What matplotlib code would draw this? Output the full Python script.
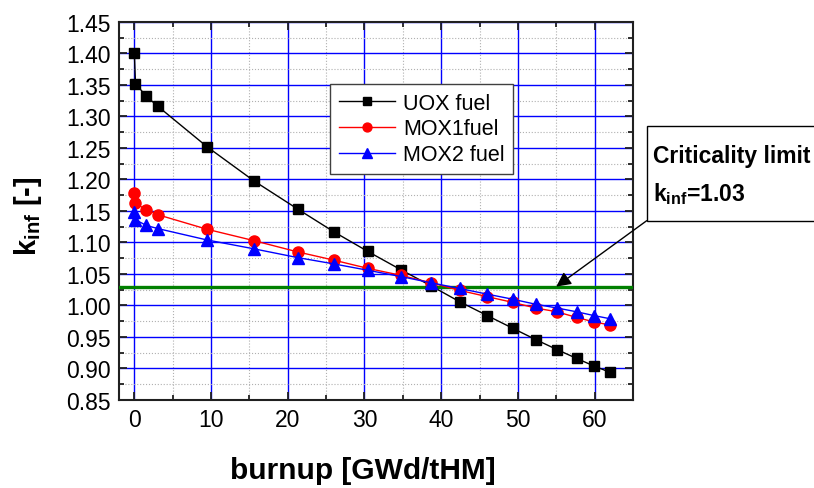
import matplotlib
matplotlib.use("Agg")
import matplotlib.pyplot as plt
from matplotlib.patches import Rectangle
from matplotlib.ticker import MultipleLocator, FormatStrFormatter

plt.rcParams['font.family'] = ['Liberation Sans', 'DejaVu Sans']
plt.rcParams['mathtext.fontset'] = 'custom'
plt.rcParams['mathtext.rm'] = 'Liberation Sans'
plt.rcParams['mathtext.bf'] = 'Liberation Sans:bold'

# burnup steps shared by all three fuels
burnup = [0, 0.15, 1.57, 3.08, 9.47, 15.56, 21.3, 26.0, 30.4, 34.7,
          38.7, 42.4, 46.0, 49.3, 52.3, 55.1, 57.65, 59.9, 62.0]

k_uox = [1.400, 1.352, 1.332, 1.316, 1.252, 1.198, 1.153, 1.117, 1.086, 1.057,
         1.031, 1.006, 0.984, 0.964, 0.946, 0.930, 0.916, 0.904, 0.894]
k_mox1 = [1.179, 1.162, 1.152, 1.144, 1.121, 1.103, 1.085, 1.072, 1.059, 1.048,
          1.036, 1.024, 1.014, 1.005, 0.996, 0.990, 0.981, 0.974, 0.969]
k_mox2 = [1.149, 1.136, 1.127, 1.122, 1.104, 1.090, 1.076, 1.066, 1.056, 1.046,
          1.036, 1.027, 1.018, 1.010, 1.002, 0.996, 0.990, 0.984, 0.979]

k_limit = 1.03

fig = plt.figure(figsize=(8.14, 4.89), dpi=100)
ax = fig.add_axes([0.1462, 0.18, 0.6314, 0.773])

ax.plot(burnup, k_uox, '-s', color='black', lw=1, ms=7.5, label='UOX fuel', zorder=4)
ax.plot(burnup, k_mox1, '-o', color='red', lw=1, ms=8, label='MOX1fuel', zorder=5)
ax.plot(burnup, k_mox2, '-^', color='blue', lw=1, ms=8.5, label='MOX2 fuel', zorder=6)

ax.axhline(k_limit, color='#008000', lw=2.4, zorder=3)

ax.set_xlim(-2, 65)
ax.set_ylim(0.85, 1.45)
ax.xaxis.set_major_locator(MultipleLocator(10))
ax.xaxis.set_minor_locator(MultipleLocator(5))
ax.yaxis.set_major_locator(MultipleLocator(0.05))
ax.yaxis.set_minor_locator(MultipleLocator(0.025))
ax.yaxis.set_major_formatter(FormatStrFormatter('%.2f'))

ax.grid(which='major', color='blue', lw=1, zorder=1)
ax.grid(which='minor', color='#b0b0b0', ls=':', lw=0.8, zorder=1)
ax.set_axisbelow(True)

ax.tick_params(which='both', direction='in', top=True, right=True,
               labelsize=16.5, width=1.3, color='#202020')
ax.tick_params(which='major', length=6, pad=6)
ax.tick_params(which='minor', length=3.5)
for s in ax.spines.values():
    s.set_linewidth(1.5)
    s.set_color('#202020')

ax.set_xlabel('burnup [GWd/tHM]', fontsize=21.5, fontweight='bold')
ax.set_ylabel(r'$\mathbf{k_{inf}}$ [-]', fontsize=21, fontweight='bold')
ax.xaxis.set_label_coords(0.475, -0.148)
ax.yaxis.set_label_coords(-0.145, 0.49)

leg = ax.legend(loc='upper left', bbox_to_anchor=(330 / 814, 1 - 85 / 489),
                bbox_transform=fig.transFigure, borderaxespad=0,
                fontsize=15.5, fancybox=False,
                framealpha=1, edgecolor='#404040', handlelength=2.6,
                handletextpad=0.4, labelspacing=0.22, borderpad=0.4,
                markerscale=0.8)
leg.get_frame().set_linewidth(1)
leg.set_zorder(10)

# note box on the right, running off the figure edge
box = Rectangle((646.7 / 814, 267.3 / 489), 0.3, 94.4 / 489,
                transform=fig.transFigure, facecolor='white',
                edgecolor='black', lw=1)
fig.add_artist(box)
fig.text(653 / 814, 1 - 163 / 489, 'Criticality limit', fontsize=16.5,
         fontweight='bold', va='baseline')
fig.text(653 / 814, 1 - 201.5 / 489, r'$\mathbf{k_{inf}}$=1.03', fontsize=16.5,
         fontweight='bold', va='baseline')

ax.annotate('', xy=(55.0, k_limit), xycoords='data',
            xytext=(646.7, 489 - 221.7), textcoords='figure pixels',
            arrowprops=dict(arrowstyle='-|>', color='black', lw=1,
                            mutation_scale=22, shrinkA=0, shrinkB=0),
            annotation_clip=False, zorder=8)

fig.savefig('out.png', dpi=100)
